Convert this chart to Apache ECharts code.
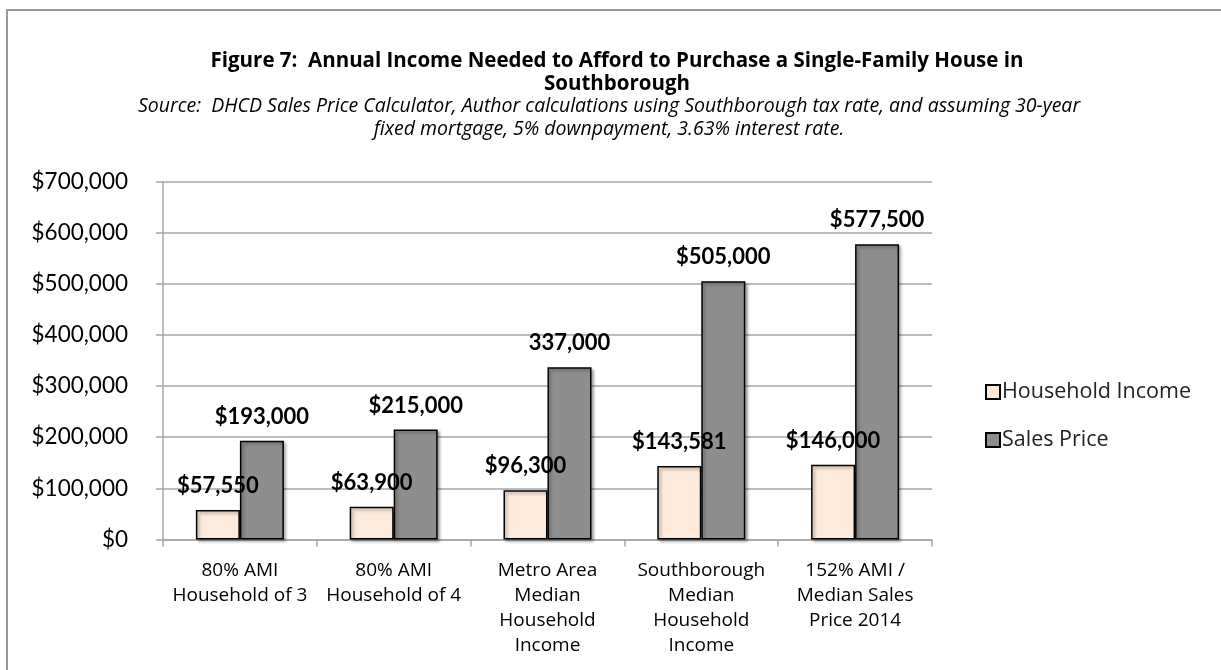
<!DOCTYPE html>
<html>
<head>
<meta charset="utf-8">
<script src="https://cdn.jsdelivr.net/npm/echarts@6/dist/echarts.min.js"></script>
<style>
  html, body { margin: 0; padding: 0; background: #fff; }
  #chart { width: 1221px; height: 670px; }
</style>
</head>
<body>
<div id="chart"></div>
<script>
const categories = [
  '80% AMI\nHousehold of 3',
  '80% AMI\nHousehold of 4',
  'Metro Area\nMedian\nHousehold\nIncome',
  'Southborough\nMedian\nHousehold\nIncome',
  '152% AMI /\nMedian Sales\nPrice 2014'
];
const householdIncome = [57550, 63900, 96300, 143581, 146000];
const salesPrice = [193000, 215000, 337000, 505000, 577500];
const incomeLabels = ['$57,550', '$63,900', '$96,300', '$143,581', '$146,000'];
const salesLabels = ['$193,000', '$215,000', '337,000', '$505,000', '$577,500'];
const yTicks = { min: 0, max: 700000, interval: 100000 };
const seriesNames = ['Household Income', 'Sales Price'];
const titleText = 'Figure 7:  Annual Income Needed to Afford to Purchase a Single-Family House in\nSouthborough';
const subText = 'Source:  DHCD Sales Price Calculator, Author calculations using Southborough tax rate, and assuming 30-year\nfixed mortgage, 5% downpayment, 3.63% interest rate.';

const chart = echarts.init(document.getElementById('chart'), null, { renderer: 'canvas' });
const gridColor = '#A6A6A6';
const labelStyle = (arr) => ({
  show: true,
  position: 'top',
  distance: 13,
  fontFamily: 'Lato',
  fontWeight: 'bold',
  fontSize: 22,
  color: '#000',
  formatter: (p) => arr[p.dataIndex]
});
const option = {
  backgroundColor: '#fff',
  animation: false,
  graphic: [{
    type: 'rect',
    shape: { x: 7, y: 10, width: 1400, height: 900 },
    style: { fill: 'none', stroke: '#9A9A9A', lineWidth: 2 },
    silent: true
  }],
  title: [{
    text: titleText,
    left: 612,
    top: 45,
    textAlign: 'center',
    textStyle: { fontFamily: 'Open Sans', fontWeight: 'bold', fontSize: 20.5, color: '#000', lineHeight: 23 }
  }, {
    text: subText,
    left: 604,
    top: 90,
    textAlign: 'center',
    textStyle: { fontFamily: 'Open Sans', fontStyle: 'italic', fontWeight: 'normal', fontSize: 19.5, color: '#000', lineHeight: 23 }
  }],
  legend: {
    orient: 'vertical',
    left: 980,
    top: 376,
    itemWidth: 14,
    itemHeight: 14,
    itemGap: 26,
    icon: 'rect',
    data: seriesNames,
    textStyle: { fontFamily: 'Open Sans', fontSize: 21.5, color: '#222', padding: [0, 0, 0, -3] }
  },
  grid: { left: 163, right: 289, top: 181.5, bottom: 130.5, containLabel: false },
  xAxis: {
    type: 'category',
    data: categories,
    axisLine: { show: true, lineStyle: { color: gridColor, width: 1.5 } },
    axisTick: { show: true, length: 7, alignWithLabel: false, lineStyle: { color: gridColor, width: 1.5 } },
    axisLabel: { interval: 0, fontFamily: 'Open Sans', fontSize: 19, color: '#000', lineHeight: 25, margin: 19 }
  },
  yAxis: {
    type: 'value',
    min: yTicks.min,
    max: yTicks.max,
    interval: yTicks.interval,
    axisLine: { show: true, lineStyle: { color: gridColor, width: 1.5 } },
    axisTick: { show: true, length: 7, lineStyle: { color: gridColor, width: 1.5 } },
    splitLine: { show: true, lineStyle: { color: gridColor, width: 1.5 } },
    axisLabel: {
      fontFamily: 'Lato', fontSize: 22.5, color: '#000', margin: 35,
      formatter: (v) => '$' + v.toLocaleString('en-US')
    }
  },
  series: [
    {
      name: seriesNames[0],
      type: 'bar',
      data: householdIncome,
      barWidth: 44,
      barGap: '0%',
      itemStyle: { color: '#FDEADA', borderColor: '#000', borderWidth: 1.5,
        shadowColor: 'rgba(0,0,0,0.35)', shadowBlur: 3, shadowOffsetX: 2, shadowOffsetY: 2 },
      label: labelStyle(incomeLabels)
    },
    {
      name: seriesNames[1],
      type: 'bar',
      data: salesPrice,
      barWidth: 44,
      barGap: '0%',
      itemStyle: { color: '#8E8E8E', borderColor: '#000', borderWidth: 1.5,
        shadowColor: 'rgba(0,0,0,0.35)', shadowBlur: 3, shadowOffsetX: 2, shadowOffsetY: 2 },
      label: labelStyle(salesLabels)
    }
  ]
};
chart.setOption(option);
</script>
</body>
</html>
